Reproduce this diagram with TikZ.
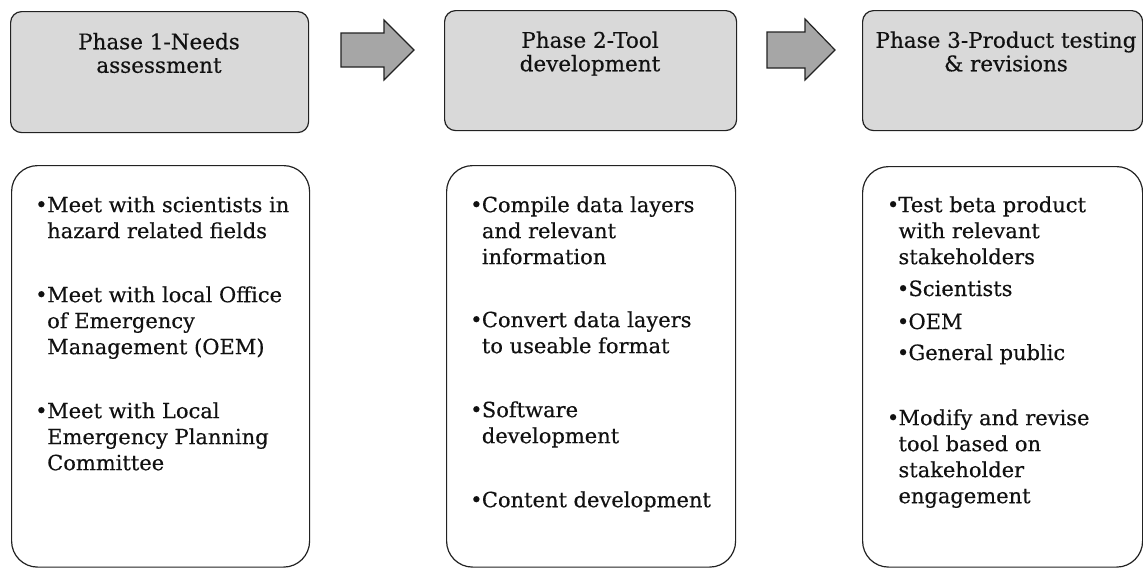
\documentclass[tikz,border=0pt]{standalone}
\usepackage{fontspec}
\setmainfont{DejaVu Serif}[FakeBold=0.4]
\definecolor{lineC}{HTML}{222222}
\definecolor{phaseC}{HTML}{D9D9D9}
\definecolor{arrowC}{HTML}{A6A6A6}
\definecolor{textC}{HTML}{111111}
\tikzset{
  phasebox/.style={draw=lineC, fill=phaseC, line width=1.2pt, rounded corners=11pt, inner sep=0pt, anchor=north west},
  itembox/.style={draw=lineC, fill=white, line width=1.2pt, rounded corners=26pt, inner sep=0pt, anchor=north west},
  flowarrow/.style={draw=lineC, fill=arrowC, line width=1.2pt, line join=miter},
  titletext/.style={font=\fontsize{21.5}{23.5}\selectfont, align=center, inner sep=0pt, anchor=north, text=textC},
  itemtext/.style={font=\fontsize{21}{26}\selectfont, align=left, inner sep=0pt, anchor=north west, text=textC},
  subtext/.style={font=\fontsize{21}{26}\selectfont, inner sep=0pt, anchor=base west, text=textC},
  bulletmark/.style={font=\fontsize{21}{26}\selectfont, inner sep=0pt, anchor=base west, text=textC},
}
\begin{document}
\begin{tikzpicture}[x=1pt, y=-1pt]
\useasboundingbox (0,0) rectangle (1143,568);
% phase boxes
\node[phasebox, minimum width=298pt, minimum height=121pt] (p1) at (10,11) {};
\node[phasebox, minimum width=292pt, minimum height=120pt] (p2) at (444,10) {};
\node[phasebox, minimum width=280pt, minimum height=120pt] (p3) at (862,10) {};
% item boxes
\node[itembox, minimum width=298pt, minimum height=401.5pt] (b1) at (11,165) {};
\node[itembox, minimum width=289pt, minimum height=401.5pt] (b2) at (446,165) {};
\node[itembox, minimum width=280pt, minimum height=400.5pt] (b3) at (862,166) {};
% arrows
\draw[flowarrow] (341,33) -- (384,33) -- (384,20) -- (414,50) -- (384,80) -- (384,67) -- (341,67) -- cycle;
\draw[flowarrow] (767,32) -- (805,32) -- (805,19) -- (835,50) -- (805,80) -- (805,68) -- (767,68) -- cycle;
% titles
\node[titletext] (t1) at (159,32.6) {\strut Phase 1-Needs\\assessment};
\node[titletext] (t2) at (590,31.1) {\strut Phase 2-Tool\\development};
\node[titletext] (t3) at (1006,31.1) {\strut Phase 3-Product testing\\\& revisions};
% box 1 items
\node[bulletmark] (m11) at (35,212) {•};
\node[itemtext] (i11) at (47,193.8) {\strut Meet with scientists in\\hazard related fields};
\node[bulletmark] (m12) at (35,302) {•};
\node[itemtext] (i12) at (47,283.8) {\strut Meet with local Office\\of Emergency\\Management (OEM)};
\node[bulletmark] (m13) at (35,418) {•};
\node[itemtext] (i13) at (47,399.8) {\strut Meet with Local\\Emergency Planning\\Committee};
% box 2 items
\node[bulletmark] (m21) at (470,212) {•};
\node[itemtext] (i21) at (481.7,193.8) {\strut Compile data layers\\and relevant\\information};
\node[bulletmark] (m22) at (470,327) {•};
\node[itemtext] (i22) at (481.7,308.8) {\strut Convert data layers\\to useable format};
\node[bulletmark] (m23) at (470,417) {•};
\node[itemtext] (i23) at (481.7,398.8) {\strut Software\\development};
\node[bulletmark] (m24) at (470,507) {•};
\node[itemtext] (i24) at (481.7,488.8) {\strut Content development};
% box 3 items
\node[bulletmark] (m31) at (886.7,212) {•};
\node[itemtext] (i31) at (898.3,193.8) {\strut Test beta product\\with relevant\\stakeholders};
\node[bulletmark] (m32) at (896.7,296) {•};
\node[subtext] (i32) at (908.3,296) {Scientists};
\node[bulletmark] (m33) at (896.7,329) {•};
\node[subtext] (i33) at (908.3,329) {OEM};
\node[bulletmark] (m34) at (896.7,360) {•};
\node[subtext] (i34) at (908.3,360) {General public};
\node[bulletmark] (m35) at (886.7,425) {•};
\node[itemtext] (i35) at (898.3,406.8) {\strut Modify and revise\\tool based on\\stakeholder\\engagement};
\end{tikzpicture}
\end{document}
